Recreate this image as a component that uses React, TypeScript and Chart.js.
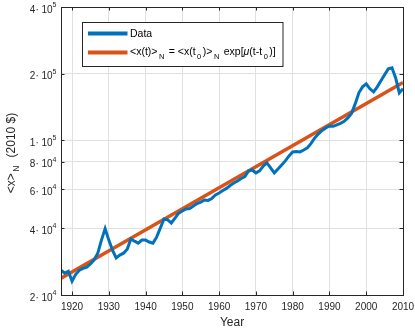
import React, { useEffect, useRef } from 'react';
import { Chart, registerables } from 'chart.js';
Chart.register(...registerables);

const years = [
  1917, 1918, 1919, 1920, 1921, 1922, 1923, 1924, 1925, 1926, 1927, 1928, 1929, 1930,
  1931, 1932, 1933, 1934, 1935, 1936, 1937, 1938, 1939, 1940, 1941, 1942, 1943, 1944,
  1945, 1946, 1947, 1948, 1949, 1950, 1951, 1952, 1953, 1954, 1955, 1956, 1957, 1958,
  1959, 1960, 1961, 1962, 1963, 1964, 1965, 1966, 1967, 1968, 1969, 1970, 1971, 1972,
  1973, 1974, 1975, 1976, 1977, 1978, 1979, 1980, 1981, 1982, 1983, 1984, 1985, 1986,
  1987, 1988, 1989, 1990, 1991, 1992, 1993, 1994, 1995, 1996, 1997, 1998, 1999, 2000,
  2001, 2002, 2003, 2004, 2005, 2006, 2007, 2008, 2009, 2010,
];
const dataValues = [
  25900, 25100, 25600, 23100, 24800, 25900, 26400, 26700, 27600, 28800, 30900, 35400, 39900, 35400,
  31900, 29400, 30300, 30900, 32200, 35800, 35000, 34300, 35400, 35400, 34700, 34300, 36500, 40100,
  44100, 43700, 42300, 44500, 46900, 47900, 48900, 49200, 50500, 51800, 52600, 53700, 53500, 54600,
  56600, 57800, 59300, 60600, 62500, 64100, 65500, 67200, 68600, 72700, 73400, 71200, 72700, 76500,
  79000, 75000, 71200, 74200, 77400, 80700, 85000, 88600, 88900, 88600, 90400, 92400, 96800, 102500,
  106900, 110800, 113700, 116100, 115600, 117400, 119200, 121700, 126200, 132300, 146000, 163800, 174300, 179900,
  170800, 165500, 174300, 185600, 197600, 210200, 212500, 191400, 163800, 170800,
];
const fitYears = [1917, 2010];
const fitValues = [23800, 182500];

const xMin = 1917;
const xMax = 2010;
const xTicks = [1920, 1930, 1940, 1950, 1960, 1970, 1980, 1990, 2000, 2010];
const yMin = 20000;
const yMax = 400000;
const yTicks = [20000, 40000, 60000, 80000, 100000, 200000, 400000];
const yTickMantissa = ['2', '4', '6', '8', '1', '2', '4'];
const yTickExponent = ['4', '4', '4', '4', '5', '5', '5'];

const xTitle = 'Year';
const yTitle = [
  { t: '<x>' },
  { t: 'N', sub: true },
  { t: '  (2010 $)' },
];
const legendData = 'Data';
const legendFit = [
  { t: '<x(t)>' },
  { t: 'N', sub: true },
  { t: ' = <x(t' },
  { t: '0', sub: true },
  { t: ')>' },
  { t: 'N', sub: true },
  { t: ' exp[' },
  { t: 'μ', italic: true },
  { t: '(t-t' },
  { t: '0', sub: true },
  { t: ')]' },
];

const BLUE = '#0072BD';
const ORANGE = '#D95319';
const AX = '#262626';
const GRID = '#e0e0e0';
const FONT = '"Liberation Sans", Arial, Helvetica, sans-serif';

type Seg = { t: string; sub?: boolean; italic?: boolean };

const SUB_GAP_BEFORE = 1.5;
const SUB_GAP_AFTER = 1.5;

function richWidth(ctx: CanvasRenderingContext2D, segs: Seg[], size: number, subSize: number) {
  let w = 0;
  for (const s of segs) {
    ctx.font = `${s.italic ? 'italic ' : ''}${s.sub ? subSize : size}px ${FONT}`;
    w += ctx.measureText(s.t).width + (s.sub ? SUB_GAP_BEFORE + SUB_GAP_AFTER : 0);
  }
  return w;
}

function drawRich(ctx: CanvasRenderingContext2D, segs: Seg[], x: number, y: number, size: number, subSize: number) {
  let cx = x;
  ctx.textAlign = 'left';
  ctx.textBaseline = 'middle';
  for (const s of segs) {
    ctx.font = `${s.italic ? 'italic ' : ''}${s.sub ? subSize : size}px ${FONT}`;
    if (s.sub) cx += SUB_GAP_BEFORE;
    ctx.fillText(s.t, cx, s.sub ? y + 4.5 : y);
    cx += ctx.measureText(s.t).width;
    if (s.sub) cx += SUB_GAP_AFTER;
  }
}

const customPlugin = {
  id: 'matlabLook',
  afterDraw(chart: any) {
    const ctx: CanvasRenderingContext2D = chart.ctx;
    const { left, right, top, bottom } = chart.chartArea;
    const xs = chart.scales.x;
    const ys = chart.scales.y;
    ctx.save();
    // box
    ctx.strokeStyle = AX;
    ctx.lineWidth = 1;
    ctx.strokeRect(Math.round(left) + 0.5, Math.round(top) + 0.5, Math.round(right - left), Math.round(bottom - top));
    // inner ticks
    const tl = 3.5;
    ctx.beginPath();
    for (const v of yTicks) {
      const py = Math.round(ys.getPixelForValue(v)) + 0.5;
      ctx.moveTo(left, py); ctx.lineTo(left + tl, py);
      ctx.moveTo(right, py); ctx.lineTo(right - tl, py);
    }
    for (const v of xTicks) {
      const px = Math.round(xs.getPixelForValue(v)) + 0.5;
      ctx.moveTo(px, bottom); ctx.lineTo(px, bottom - tl);
      ctx.moveTo(px, top); ctx.lineTo(px, top + tl);
    }
    ctx.stroke();

    ctx.fillStyle = AX;
    // x tick labels
    ctx.font = `10px ${FONT}`;
    ctx.textAlign = 'center';
    ctx.textBaseline = 'middle';
    for (const v of xTicks) {
      ctx.fillText(String(v), xs.getPixelForValue(v), bottom + 12);
    }
    // y tick labels
    yTicks.forEach((v, i) => {
      const py = ys.getPixelForValue(v);
      const main = `${yTickMantissa[i]}· 10`;
      ctx.font = `7px ${FONT}`;
      const ew = ctx.measureText(yTickExponent[i]).width;
      ctx.font = `10px ${FONT}`;
      const mw = ctx.measureText(main).width;
      const rightEdge = left - 4.5;
      ctx.textAlign = 'left';
      ctx.fillText(main, rightEdge - ew - mw, py + 3);
      ctx.font = `7px ${FONT}`;
      ctx.fillText(yTickExponent[i], rightEdge - ew, py - 2);
    });
    // x title
    ctx.font = `12px ${FONT}`;
    ctx.textAlign = 'center';
    ctx.fillText(xTitle, (left + right) / 2, 323);
    // y title
    ctx.save();
    const tw = richWidth(ctx, yTitle, 12, 8.5);
    ctx.translate(12, 153);
    ctx.rotate(-Math.PI / 2);
    drawRich(ctx, yTitle, -tw / 2, 0, 12, 8.5);
    ctx.restore();

    // legend
    const lx = 82, ly = 22, lw = 200.5, lh = 44;
    ctx.fillStyle = '#ffffff';
    ctx.fillRect(lx, ly, lw, lh);
    ctx.strokeStyle = AX;
    ctx.lineWidth = 1;
    ctx.strokeRect(lx + 0.5, ly + 0.5, lw, lh);
    ctx.lineWidth = 4;
    ctx.lineCap = 'butt';
    ctx.strokeStyle = BLUE;
    ctx.beginPath(); ctx.moveTo(88, 33.5); ctx.lineTo(127.5, 33.5); ctx.stroke();
    ctx.strokeStyle = ORANGE;
    ctx.beginPath(); ctx.moveTo(88, 52.5); ctx.lineTo(127.5, 52.5); ctx.stroke();
    ctx.fillStyle = '#000000';
    ctx.font = `10.5px ${FONT}`;
    ctx.textAlign = 'left';
    ctx.textBaseline = 'middle';
    ctx.fillText(legendData, 130, 34);
    drawRich(ctx, legendFit, 130, 52, 10.5, 7.5);
    ctx.restore();
  },
};

export default function App() {
  const ref = useRef<HTMLCanvasElement>(null);
  useEffect(() => {
    if (!ref.current) return;
    const chart = new Chart(ref.current, {
      type: 'line',
      data: {
        datasets: [
          {
            label: 'Data',
            data: years.map((y, i) => ({ x: y, y: dataValues[i] })),
            borderColor: BLUE,
            backgroundColor: BLUE,
            borderWidth: 3,
            pointRadius: 0,
            tension: 0,
            fill: false,
          },
          {
            label: 'Fit',
            data: fitYears.map((y, i) => ({ x: y, y: fitValues[i] })),
            borderColor: ORANGE,
            backgroundColor: ORANGE,
            borderWidth: 3.5,
            pointRadius: 0,
            tension: 0,
            fill: false,
          },
        ],
      },
      options: {
        responsive: false,
        animation: false,
        devicePixelRatio: 1,
        layout: { padding: { left: 0, right: 12, top: 7, bottom: 0 } },
        plugins: { legend: { display: false }, tooltip: { enabled: false } },
        scales: {
          x: {
            type: 'linear',
            min: xMin,
            max: xMax,
            afterBuildTicks: (s: any) => { s.ticks = xTicks.map((v) => ({ value: v })); },
            afterFit: (s: any) => { s.height = 36; },
            ticks: { display: false },
            grid: { color: GRID, lineWidth: 1, drawTicks: false },
            border: { display: false },
          },
          y: {
            type: 'logarithmic',
            min: yMin,
            max: yMax,
            afterBuildTicks: (s: any) => { s.ticks = yTicks.map((v) => ({ value: v })); },
            afterFit: (s: any) => { s.width = 61; },
            ticks: { display: false },
            grid: { color: GRID, lineWidth: 1, drawTicks: false },
            border: { display: false },
          },
        },
      },
      plugins: [customPlugin],
    });
    return () => chart.destroy();
  }, []);
  return (
    <canvas
      ref={ref}
      width={415}
      height={331}
      style={{ position: 'absolute', left: 0, top: 0, width: 415, height: 331, background: '#fff' }}
    />
  );
}
